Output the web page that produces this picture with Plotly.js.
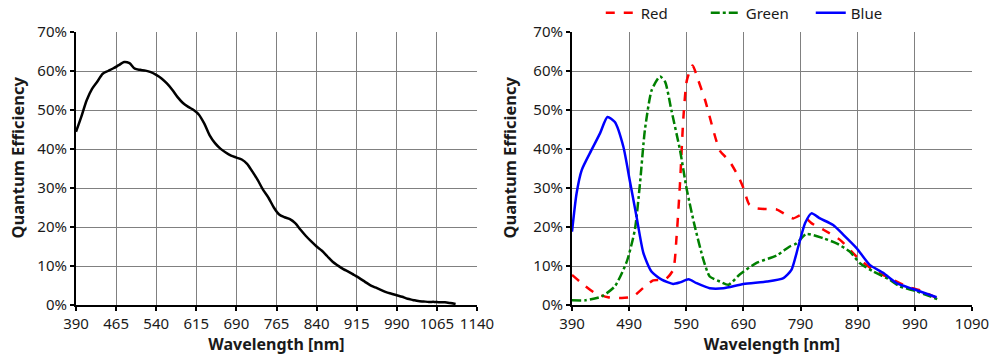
<!DOCTYPE html>
<html><head><meta charset="utf-8">
<script src="https://cdn.plot.ly/plotly-3.0.1.min.js"></script>
<style>html,body{margin:0;padding:0;background:#fff}#chart{width:993px;height:359px}</style>
</head><body><div id="chart"></div>
<script>
// Left chart: mono sensor QE
const monoWl = [390,400,410,420,430,440,450,460,470,480,490,500,510,520,530,540,550,560,570,580,590,600,610,620,630,640,650,660,670,680,690,700,710,720,730,740,750,760,770,780,790,800,810,820,830,840,850,860,870,880,890,900,910,920,930,940,950,960,970,980,990,1000,1010,1020,1030,1040,1050,1060,1070,1080,1090,1100];
const monoQE = [44.4,48.3,52.5,55.4,57.3,59.3,60.0,60.7,61.5,62.3,62.0,60.6,60.3,60.1,59.7,59.0,58.1,56.8,55.2,53.3,51.8,50.8,50.0,48.8,46.5,43.5,41.5,40.1,39.1,38.3,37.8,37.3,36.2,34.2,32.0,29.5,27.5,25.0,23.2,22.5,22.0,21.0,19.3,17.7,16.3,15.0,13.9,12.5,11.1,10.1,9.2,8.5,7.7,6.9,6.0,5.1,4.5,3.9,3.3,2.9,2.5,2.1,1.6,1.3,1.0,0.9,0.8,0.8,0.7,0.7,0.5,0.25];

// Right chart: colour sensor QE
const redWl = [390,407,430,453,477,497,515,532,553,567,573,579,585,591,601,611,623,649,665,681,690,700,712,730,748,765,777,792,809,830,859,888,917,946,975,1000,1028];
const redQE = [7.7,5.6,3.1,2.0,1.8,2.2,4.4,6.3,6.5,9.0,17.5,31.2,48.2,57.6,61.4,57.6,52.5,39.5,37.0,33.0,30.0,25.8,24.8,24.6,24.5,23.1,22.2,23.1,21.0,19.3,16.7,12.4,9.0,6.9,4.8,3.7,1.8];
const greenWl = [390,413,442,465,486,500,509,517.5,529.5,544,553,564,579,591,605,620,631,649,664,684,713,748,771,783,800,830,853,876,894,917,946,963,993,1031];
const greenQE = [1.2,1.2,2.2,4.8,11.2,19.3,31.2,44.8,55.1,58.6,57.2,49.9,39.7,29.5,20.1,11.6,7.3,6.0,5.2,7.9,10.8,12.7,15.0,15.8,18.2,17.1,15.8,13.7,10.7,8.6,6.5,4.8,3.5,1.4];
const blueWl = [390,398,407,424,439,452,465,480,491,503,515,529,547,567,579,594,608,631,655,690,731,760,774,786,798,809,824,847,865,888,911,935,958,987,1028];
const blueQE = [18.8,28.6,34.6,39.7,44.0,48.2,46.9,40.5,32.0,22.6,13.3,8.6,6.5,5.4,5.8,6.6,5.6,4.3,4.3,5.4,6.0,6.9,9.0,15.0,21.0,23.5,22.2,20.5,18.0,14.6,10.3,8.2,5.6,4.1,2.0];

const yTickVals = [0,10,20,30,40,50,60,70];
const yTickText = ['0%','10%','20%','30%','40%','50%','60%','70%'];
const leftXTicks = [390,465,540,615,690,765,840,915,990,1065,1140];
const rightXTicks = [390,490,590,690,790,890,990,1090];
const yTitle = 'Quantum Efficiency';
const xTitle = 'Wavelength [nm]';

const FONT = 'Noto Sans, DejaVu Sans, sans-serif';
const tickFont = {family: FONT, size: 15, color: '#1a1a1a'};
const titleFont = {family: FONT, size: 16, color: '#1a1a1a', weight: 'bold'};

function xAxis(ticks, range, anchor, domain) {
  return {
    domain: domain, anchor: anchor, range: range,
    tickmode: 'array', tickvals: ticks, ticktext: ticks.map(String),
    showgrid: true, gridcolor: '#808080', gridwidth: 1,
    showline: true, linecolor: '#000', linewidth: 2,
    ticks: 'outside', ticklen: 4, tickcolor: '#000', tickwidth: 2,
    tickfont: tickFont, zeroline: false,
    title: {text: '<b>' + xTitle + '</b>', font: titleFont, standoff: 4}
  };
}
function yAxis(anchor, domain) {
  return {
    domain: domain, anchor: anchor, range: [0, 70],
    tickmode: 'array', tickvals: yTickVals, ticktext: yTickText,
    showgrid: true, gridcolor: '#808080', gridwidth: 1,
    showline: true, linecolor: '#000', linewidth: 2,
    ticks: 'outside', ticklen: 4, tickcolor: '#000', tickwidth: 2,
    tickfont: tickFont, zeroline: false
  };
}

const traces = [
  {x: monoWl, y: monoQE, xaxis: 'x', yaxis: 'y', type: 'scatter', mode: 'lines',
   line: {color: '#000', width: 2.5, shape: 'spline', smoothing: 0.8}, showlegend: false, name: 'Mono'},
  {x: redWl, y: redQE, xaxis: 'x2', yaxis: 'y2', type: 'scatter', mode: 'lines', name: 'Red',
   line: {color: '#ff0000', width: 2.5, dash: 'dash', shape: 'spline', smoothing: 0.6}},
  {x: greenWl, y: greenQE, xaxis: 'x2', yaxis: 'y2', type: 'scatter', mode: 'lines', name: 'Green',
   line: {color: '#008000', width: 2.5, dash: 'dashdot', shape: 'spline', smoothing: 0.6}},
  {x: blueWl, y: blueQE, xaxis: 'x2', yaxis: 'y2', type: 'scatter', mode: 'lines', name: 'Blue',
   line: {color: '#0000ff', width: 2.5, shape: 'spline', smoothing: 0.6}}
];

function yTitleAnn(xPaper) {
  return {text: '<b>' + yTitle + '</b>', xref: 'paper', yref: 'paper', x: xPaper, y: 0.54,
          xanchor: 'center', yanchor: 'middle', textangle: -90, showarrow: false,
          font: {family: FONT, size: 16.5, color: '#1a1a1a'}};
}

const layout = {
  width: 993, height: 359,
  margin: {l: 0, r: 0, t: 32, b: 54},
  paper_bgcolor: '#fff', plot_bgcolor: '#fff',
  font: {family: FONT, color: '#1a1a1a'},
  xaxis: xAxis(leftXTicks, [390, 1140], 'y', [76/993, 477/993]),
  yaxis: yAxis('x', [0, 1]),
  xaxis2: xAxis(rightXTicks, [390, 1090], 'y2', [572/993, 972/993]),
  yaxis2: yAxis('x2', [0, 1]),
  annotations: [yTitleAnn(18/993), yTitleAnn(510/993)],
  showlegend: true,
  legend: {orientation: 'h', xref: 'container', yref: 'container',
           x: 0.605, xanchor: 'left', y: 1 - 13/359, yanchor: 'middle',
           font: {family: FONT, size: 15, color: '#1a1a1a'}, itemwidth: 30,
           entrywidth: 60, bgcolor: 'rgba(0,0,0,0)', tracegroupgap: 0}
};

Plotly.newPlot('chart', traces, layout, {displayModeBar: false, staticPlot: true});
</script></body></html>
